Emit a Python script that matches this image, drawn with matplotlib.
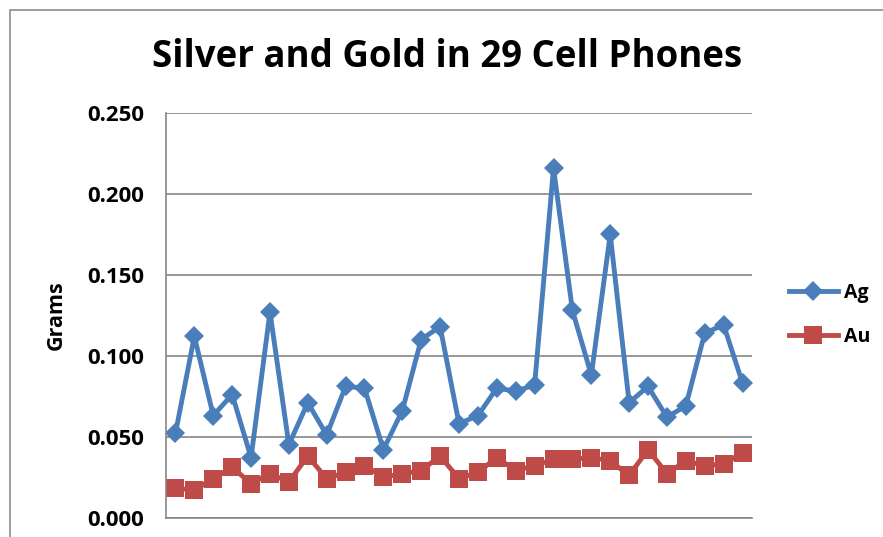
import matplotlib
matplotlib.use('Agg')
import matplotlib.pyplot as plt
from matplotlib.patches import Rectangle
from matplotlib.ticker import FormatStrFormatter

plt.rcParams['font.family'] = ['Open Sans', 'DejaVu Sans']
plt.rcParams['font.weight'] = 'bold'

# grams per phone (31 points plotted)
ag = [0.052, 0.112, 0.063, 0.076, 0.037, 0.127, 0.045, 0.071, 0.051, 0.081,
      0.080, 0.042, 0.066, 0.110, 0.118, 0.058, 0.063, 0.080, 0.078, 0.082,
      0.216, 0.128, 0.088, 0.175, 0.071, 0.081, 0.062, 0.069, 0.114, 0.119,
      0.083]
au = [0.018, 0.017, 0.024, 0.031, 0.021, 0.027, 0.022, 0.038, 0.024, 0.028,
      0.032, 0.025, 0.027, 0.029, 0.038, 0.024, 0.028, 0.037, 0.029, 0.032,
      0.036, 0.036, 0.037, 0.035, 0.026, 0.042, 0.027, 0.035, 0.032, 0.033,
      0.040]
phones = list(range(1, len(ag) + 1))
y_ticks = [0.0, 0.05, 0.10, 0.15, 0.20, 0.25]

blue = '#4a7ebb'
red = '#be4b48'
grid = '#868686'

fig = plt.figure(figsize=(8.83, 5.37), dpi=100)
ax = fig.add_axes([166 / 883, 1 - 517.5 / 537, (752 - 166) / 883, (517.5 - 113) / 537])

ax.plot(phones, ag, color=blue, lw=3.5, marker='D', markersize=10,
        markeredgewidth=0, label='Ag')
ax.plot(phones, au, color=red, lw=3.5, marker='s', markersize=13,
        markeredgewidth=0, label='Au')

ax.set_xlim(0.5, len(ag) + 0.5)
ax.set_ylim(0, 0.25)
ax.set_yticks(y_ticks)
ax.yaxis.set_major_formatter(FormatStrFormatter('%.3f'))
ax.tick_params(axis='y', length=0, pad=16, labelsize=16)
ax.tick_params(axis='x', length=0, labelbottom=False)
ax.grid(axis='y', color=grid, lw=1.2)
ax.set_axisbelow(True)
for side in ['top', 'right']:
    ax.spines[side].set_visible(False)
for side in ['left', 'bottom']:
    ax.spines[side].set_color(grid)
    ax.spines[side].set_linewidth(1.2)

ax.set_ylabel('Grams', fontsize=15.5, fontweight='bold')
ax.yaxis.set_label_coords((67 - 166) / 586, 0.5)

fig.text(447.5 / 883, 1 - 57 / 537, 'Silver and Gold in 29 Cell Phones',
         ha='center', va='center', fontsize=26.4, fontweight='bold')

fig.legend(loc='center left', bbox_to_anchor=(789 / 883, 1 - 315 / 537),
           frameon=False, fontsize=14, handlelength=2.5, handletextpad=0.35,
           labelspacing=1.25, borderpad=0, borderaxespad=0)

fig.patches.append(Rectangle((10 / 883, -0.1), 2, 1.1 - 9.5 / 537, transform=fig.transFigure,
                             fill=False, edgecolor='#8c8c8c', lw=1.2))

fig.savefig('out.png', dpi=100)
